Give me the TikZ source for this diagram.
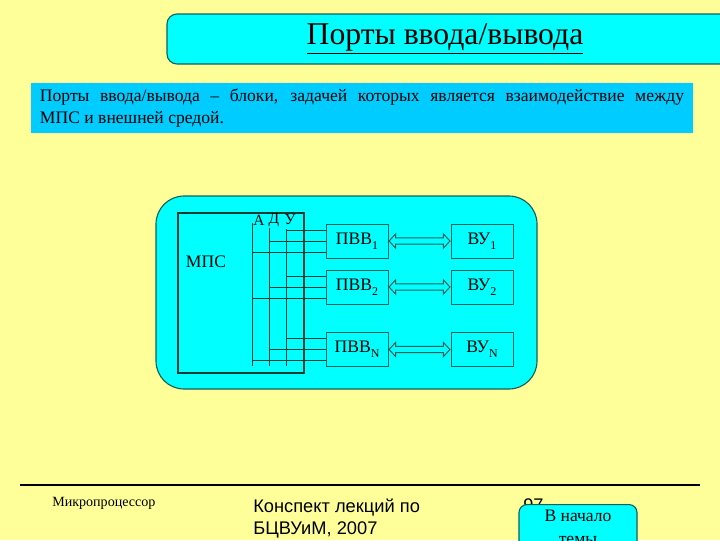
\documentclass[tikz,border=0pt]{standalone}
\usepackage{fontspec}
\setmainfont{Liberation Serif}
\newfontfamily\arialfont{Liberation Sans}
\usetikzlibrary{shapes.arrows}

\definecolor{slide}{RGB}{255,255,153}
\definecolor{aqua}{RGB}{0,255,255}
\definecolor{sky}{RGB}{0,204,255}
\definecolor{rim}{RGB}{25,95,85}
\definecolor{wire}{RGB}{10,60,50}

\newcommand{\portidx}[1]{\raisebox{-0.6ex}{\fontsize{8.5}{9}\selectfont #1}}

\begin{document}
\begin{tikzpicture}[x=0.025cm, y=-0.025cm,
  port/.style={draw=rim, fill=aqua, minimum width=1.55cm, minimum height=0.85cm,
    inner sep=0pt, font=\fontsize{12.5}{14}\selectfont},
  link/.style={double arrow, draw=rim, fill=aqua, line width=0.7pt, inner xsep=0pt, inner ysep=1.8pt,
    minimum height=1.52cm, double arrow head extend=3pt, double arrow tip angle=95},
  busname/.style={inner sep=0pt, font=\fontsize{11}{12}\selectfont}]
\clip (0,0) rectangle (720,540);
% slide background
\fill[slide] (0,0) rectangle (720,540);
% title
\draw[rim, fill=aqua, line width=0.8pt, rounded corners=0.25cm] (167,14) rectangle (760,64);
\node (title) at (445,39) {\fontsize{22.5}{26}\selectfont\underline{Порты ввода/вывода}};
% definition
\node[fill=sky, text width=458pt, minimum height=1.25cm, inner xsep=6.4pt, align=justify,
  font=\fontsize{12.5}{15.6}\selectfont] (intro) at (362,108)
  {Порты ввода/вывода -- блоки, задачей которых является взаимодействие между\linebreak МПС и внешней средой.};
% system frame
\draw[rim, fill=aqua, line width=0.8pt, rounded corners=0.7cm] (156,196) rectangle (537,389);
% MPS and its bus
\node[draw=wire, line width=1.6pt, minimum width=3.15cm, minimum height=4cm, inner sep=0pt] (mps) at (241,293) {};
\node[font=\fontsize{12.5}{14}\selectfont] (mpsname) at (206,262) {МПС};
\coordinate (busA) at (252,223);
\coordinate (busD) at (269,228);
\coordinate (busU) at (286,229);
\foreach \b in {busA,busD,busU}
  \draw[wire] (\b) -- (\b |- 0,366);
\node[busname] (nameA) at (259,220) {А};
\node[busname] (nameD) at (274,220) {Д};
\node[busname] (nameU) at (290,220) {У};
% ports, devices and connecting lines
\foreach \n/\y in {1/241,2/287,N/349.5} {
  \node[port] (pvb\n) at (357,\y) {ПВВ\portidx{\n}};
  \node[port] (vy\n) at (482,\y) {ВУ\portidx{\n}};
  \draw[wire] (pvb\n.west |- 0,\y-11) -- (busU |- 0,\y-11);
  \draw[wire] (pvb\n.west |- 0,\y) -- (busD |- 0,\y);
  \draw[wire] (pvb\n.west |- 0,\y+11) -- (busA |- 0,\y+11);
  \path (pvb\n.east) -- (vy\n.west) node[midway, link] (io\n) {};
}
% footer
\draw[black, line width=0.8pt] (20,485) -- (700,485);
\node[anchor=west, inner sep=0pt, font=\fontsize{10}{12}\selectfont] (topic) at (52,503) {Микропроцессор};
\node[anchor=north west, inner sep=0pt, align=left, font=\arialfont\fontsize{13}{15.6}\selectfont] (notes) at (253,499)
  {Конспект лекций по\\БЦВУиМ, 2007};
\node[anchor=north west, inner sep=0pt, font=\arialfont\fontsize{13}{15}\selectfont] (page) at (523,498) {97};
\node[anchor=north, draw=rim, fill=aqua, line width=0.8pt, rounded corners=0.2cm, minimum width=2.95cm,
  minimum height=1.6cm, inner ysep=4pt, align=center, font=\fontsize{12.5}{16.5}\selectfont] (home) at (578,504)
  {В начало\\темы\\[20pt]};
\end{tikzpicture}
\end{document}
